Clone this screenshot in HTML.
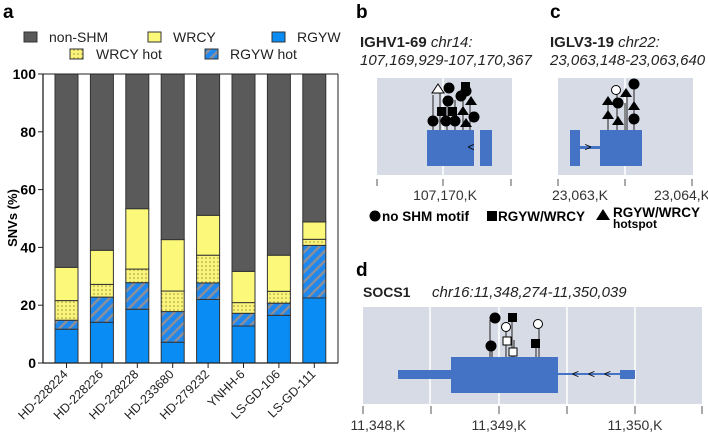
<!DOCTYPE html>
<html><head><meta charset="utf-8"><style>
body{margin:0;background:#fff;font-family:"Liberation Sans",Arial,sans-serif}
svg text{font-family:"Liberation Sans",Arial,sans-serif}
</style></head><body>
<svg id="fig" width="708" height="432" viewBox="0 0 708 432" xmlns="http://www.w3.org/2000/svg">
<defs>
<pattern id="dots" width="4" height="4" patternUnits="userSpaceOnUse"><rect width="4" height="4" fill="#fbf47a"/><circle cx="2" cy="2" r="0.8" fill="#9a9440"/></pattern>
<pattern id="hatch" width="7" height="7" patternUnits="userSpaceOnUse" patternTransform="rotate(45)"><rect width="7" height="7" fill="#1e88ee"/><rect width="2.5" height="7" fill="#8a8f99"/></pattern>
</defs>
<text x="3" y="18" font-size="19" font-weight="bold">a</text>
<g id="legend">
<rect x="24" y="32" width="13" height="10" fill="#5a5a5a" stroke="#333"/><text x="49" y="42" font-size="14" fill="#222">non-SHM</text>
<rect x="148" y="32" width="13" height="10" fill="#fbf87a" stroke="#333"/><text x="173" y="42" font-size="14" fill="#222">WRCY</text>
<rect x="272" y="32" width="13" height="10" fill="#0a8cf5" stroke="#333"/><text x="297" y="42" font-size="14" fill="#222">RGYW</text>
<rect x="70" y="49" width="13" height="10" fill="url(#dots)" stroke="#333"/><text x="96" y="59" font-size="14" fill="#222">WRCY hot</text>
<rect x="205" y="49" width="13" height="10" fill="url(#hatch)" stroke="#333"/><text x="230" y="59" font-size="14" fill="#222">RGYW hot</text>
</g>
<g id="chartA"></g>
<text transform="translate(17,218) rotate(-90)" text-anchor="middle" font-size="13" font-weight="bold">SNVs (%)</text>

<!-- panel b -->
<text x="356" y="18" font-size="19" font-weight="bold">b</text>
<text x="360" y="47" font-size="15" fill="#222"><tspan font-weight="bold">IGHV1-69</tspan> <tspan font-style="italic">chr14:</tspan></text>
<text x="360" y="65" font-size="15" font-style="italic" fill="#222">107,169,929-107,170,367</text>
<rect x="377" y="78" width="135" height="97" fill="#d6dbe5"/>
<line x1="443" y1="78" x2="443" y2="175" stroke="#fff" stroke-width="1.5"/>
<g stroke="#222" stroke-width="1">
<line x1="433" y1="95" x2="433" y2="130"/><line x1="440" y1="90" x2="440" y2="130"/><line x1="447" y1="100" x2="447" y2="130"/><line x1="455" y1="100" x2="455" y2="130"/><line x1="463" y1="88" x2="463" y2="130"/><line x1="470" y1="100" x2="470" y2="130"/>
</g>
<g fill="#000">
<circle cx="433" cy="121" r="5.5"/><circle cx="446" cy="121" r="5.5"/><circle cx="455" cy="121" r="5.5"/><circle cx="474" cy="117" r="5.5"/>
<circle cx="449" cy="88" r="5.5"/><circle cx="448" cy="101" r="5.5"/><circle cx="461" cy="96" r="5.5"/><circle cx="466" cy="91" r="5.5"/>
<rect x="437" y="107" width="9" height="9"/><rect x="448" y="107" width="9" height="9"/><rect x="461" y="82" width="9" height="9"/>
<polygon points="471,96 477,105 465,105"/><polygon points="463,106 469,115 457,115"/><polygon points="466,118 472,127 460,127"/>
<polygon points="438,84 444,93 432,93" fill="#fff" stroke="#000"/>
</g>
<rect x="427" y="130" width="47" height="36" fill="#4472c4"/>
<rect x="480" y="130" width="12" height="36" fill="#4472c4"/>
<text x="471" y="151" font-size="12" text-anchor="middle">&lt;</text>
<g stroke="#555" stroke-width="1"><line x1="377" y1="179" x2="377" y2="186"/><line x1="443" y1="179" x2="443" y2="186"/><line x1="511" y1="179" x2="511" y2="186"/></g>
<text x="445" y="200" font-size="14" text-anchor="middle" fill="#333">107,170,K</text>

<!-- panel c -->
<text x="550" y="18" font-size="19" font-weight="bold">c</text>
<text x="550" y="47" font-size="15" fill="#222"><tspan font-weight="bold">IGLV3-19</tspan> <tspan font-style="italic">chr22:</tspan></text>
<text x="550" y="65" font-size="15" font-style="italic" fill="#222">23,063,148-23,063,640</text>
<rect x="558" y="78" width="135" height="97" fill="#d6dbe5"/>
<line x1="625" y1="78" x2="625" y2="175" stroke="#fff" stroke-width="1.5"/>
<g stroke="#222" stroke-width="1"><line x1="608" y1="102" x2="608" y2="130"/><line x1="617" y1="92" x2="617" y2="130"/><line x1="625" y1="103" x2="625" y2="130"/><line x1="627" y1="97" x2="627" y2="130"/><line x1="634" y1="85" x2="634" y2="130"/></g>
<g fill="#000">
<polygon points="608,96 614,105 602,105"/><polygon points="608,110 614,119 602,119"/><polygon points="618,116 624,125 612,125"/>
<circle cx="618" cy="103" r="5.5"/><circle cx="634" cy="84" r="5.5"/><circle cx="634" cy="119" r="5.5"/>
<polygon points="626,88 632,97 620,97"/><polygon points="634,101 640,110 628,110"/>
<circle cx="616" cy="90" r="4.5" fill="#fff" stroke="#000"/>
</g>
<rect x="570" y="130" width="10" height="36" fill="#4472c4"/>
<rect x="580" y="146" width="20" height="3" fill="#4472c4"/>
<rect x="600" y="130" width="42" height="36" fill="#4472c4"/>
<text x="588" y="151" font-size="12" text-anchor="middle">&gt;</text>
<g stroke="#555"><line x1="558" y1="179" x2="558" y2="186"/><line x1="625" y1="179" x2="625" y2="186"/><line x1="692" y1="179" x2="692" y2="186"/></g>
<text x="580" y="200" font-size="14" text-anchor="middle" fill="#333">23,063,K</text>
<text x="682" y="200" font-size="14" text-anchor="middle" fill="#333">23,064,K</text>

<!-- shape legend -->
<g font-size="13.5" font-weight="bold">
<circle cx="375" cy="216" r="5.5"/><text x="382" y="221">no SHM motif</text>
<rect x="487" y="211" width="10" height="10"/><text x="498" y="221">RGYW/WRCY</text>
<polygon points="603,209 610,220 596,220"/><text x="613" y="217">RGYW/WRCY</text><text x="613" y="228" font-size="12">hotspot</text>
</g>

<!-- panel d -->
<text x="356" y="276" font-size="19" font-weight="bold">d</text>
<text x="363" y="297" font-size="14" font-weight="bold" fill="#222">SOCS1</text>
<text x="432" y="297" font-size="15" font-style="italic" fill="#222">chr16:11,348,274-11,350,039</text>
<rect x="363" y="307" width="339" height="97" fill="#d6dbe5"/>
<g stroke="#fff" stroke-width="1.5"><line x1="430" y1="307" x2="430" y2="404"/><line x1="499" y1="307" x2="499" y2="404"/><line x1="567" y1="307" x2="567" y2="404"/><line x1="635" y1="307" x2="635" y2="404"/></g>
<g stroke="#222"><line x1="490" y1="320" x2="490" y2="357"/><line x1="492" y1="345" x2="492" y2="357"/><line x1="506" y1="326" x2="506" y2="357"/><line x1="512" y1="318" x2="512" y2="357"/><line x1="514" y1="340" x2="514" y2="357"/><line x1="536" y1="342" x2="536" y2="357"/><line x1="539" y1="326" x2="539" y2="357"/></g>
<g>
<circle cx="495" cy="318" r="5.5"/><circle cx="491" cy="346" r="5.5"/><rect x="508" y="313" width="9" height="9"/><rect x="531" y="339" width="9" height="9"/>
<circle cx="506" cy="327" r="4.5" fill="#fff" stroke="#000"/><circle cx="538" cy="324" r="4.5" fill="#fff" stroke="#000"/>
<rect x="503" y="337" width="8" height="8" fill="#fff" stroke="#000"/><rect x="509" y="348" width="8" height="8" fill="#fff" stroke="#000"/>
</g>
<rect x="398" y="370" width="53" height="9" fill="#4472c4"/>
<rect x="451" y="357" width="107" height="36" fill="#4472c4"/>
<rect x="558" y="373" width="62" height="2" fill="#4472c4"/>
<rect x="620" y="370" width="15" height="9" fill="#4472c4"/>
<text x="572" y="378" font-size="12">&lt;</text><text x="588" y="378" font-size="12">&lt;</text><text x="604" y="378" font-size="12">&lt;</text>
<g stroke="#555"><line x1="363" y1="406" x2="363" y2="414"/><line x1="431" y1="406" x2="431" y2="414"/><line x1="499" y1="406" x2="499" y2="414"/><line x1="567" y1="406" x2="567" y2="414"/><line x1="635" y1="406" x2="635" y2="414"/><line x1="702" y1="406" x2="702" y2="414"/></g>
<text x="378" y="430" font-size="14" text-anchor="middle" fill="#333">11,348,K</text>
<text x="499" y="430" font-size="14" text-anchor="middle" fill="#333">11,349,K</text>
<text x="635" y="430" font-size="14" text-anchor="middle" fill="#333">11,350,K</text>
</svg>
<script>
const categories = ["HD-228224","HD-228226","HD-228228","HD-233680","HD-279232","YNHH-6","LS-GD-106","LS-GD-111"];
const rgyw = [11.7,14.1,18.6,7.2,22.0,12.8,16.5,22.5];
const rgywHot = [3.1,8.7,9.2,10.6,5.7,4.4,4.2,18.2];
const wrcyHot = [6.8,4.4,4.7,7.1,9.6,3.7,4.1,2.1];
const wrcy = [11.5,11.8,20.9,17.8,13.8,10.8,12.5,6.0];
const yTicks = [0,20,40,60,80,100];
const NS="http://www.w3.org/2000/svg";
const g=document.getElementById('chartA');
const x0=43,x1=338,yTop=74,yBot=363;
const y=v=>yBot-(v/100)*(yBot-yTop);
const step=35.4, bw=23, firstX=55;
const bx=i=>firstX+i*step;
function mk(t,a){const e=document.createElementNS(NS,t);for(const k in a)e.setAttribute(k,a[k]);g.appendChild(e);return e;}
const series=[[rgyw,'#0a8cf5','rgyw'],[rgywHot,'url(#hatch)','rgyw-hot'],[wrcyHot,'url(#dots)','wrcy-hot'],[wrcy,'#fbf87a','wrcy']];
categories.forEach((c,i)=>{
  let cum=0;
  series.forEach(([arr,fill,nm])=>{
    const r=mk('rect',{x:bx(i),y:y(cum+arr[i]),width:bw,height:y(cum)-y(cum+arr[i]),fill:fill,stroke:'#333','stroke-width':1});
    
    
    cum+=arr[i];
  });
  const r=mk('rect',{x:bx(i),y:y(100),width:bw,height:y(cum)-y(100),fill:'#5a5a5a',stroke:'#333','stroke-width':1});
  
  
  const cx=bx(i)+bw/2;
  mk('line',{x1:cx,y1:yBot,x2:cx,y2:yBot+5,stroke:'#222'});
  const t=mk('text',{x:cx+2,y:yBot+12,'font-size':12.5,'text-anchor':'end',fill:'#222',transform:`rotate(-45 ${cx+2} ${yBot+12})`});
  t.textContent=c;
  
  
});
const ax=mk('path',{d:`M${x0} ${yTop} V${yBot} H${x1}`,fill:'none',stroke:'#222','stroke-width':1.3});


mk('line',{x1:x0,y1:yTop,x2:x1,y2:yTop,stroke:'#222','stroke-width':1});
mk('line',{x1:x1,y1:yTop,x2:x1,y2:yBot,stroke:'#222','stroke-width':1});
yTicks.forEach(v=>{
  mk('line',{x1:x0-5,y1:y(v),x2:x0,y2:y(v),stroke:'#222'});
  const t=mk('text',{x:x0-7,y:y(v)+5,'font-size':14,'font-weight':'bold','text-anchor':'end'});
  t.textContent=v;
  
  
});
</script>
</body></html>
